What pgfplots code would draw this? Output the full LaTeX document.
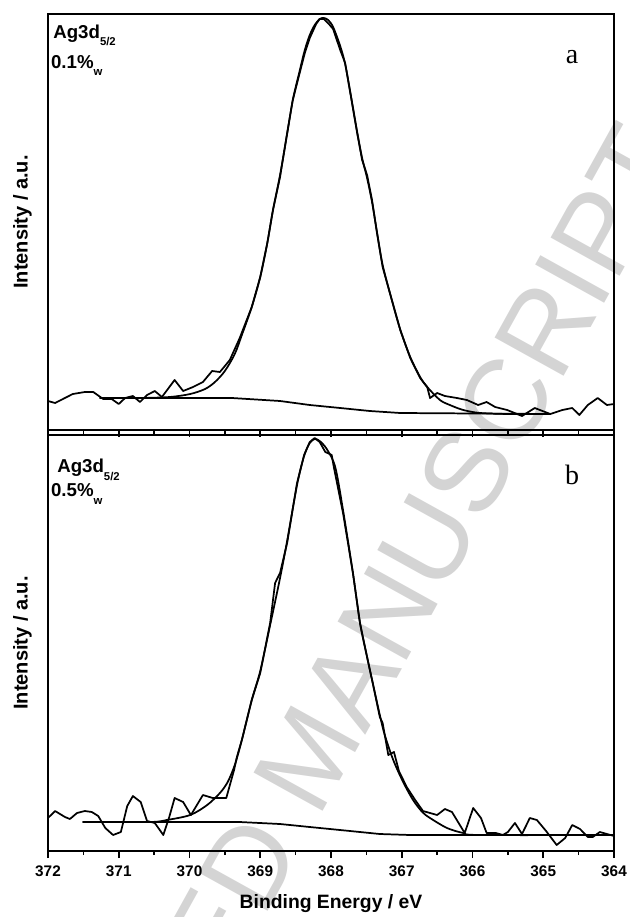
\documentclass[border=0pt]{standalone}
\usepackage{pgfplots}
\pgfplotsset{compat=1.18}
\usepackage{fontspec}
\setmainfont{Liberation Sans}
\newfontfamily\serifl{Liberation Serif}

\pgfplotsset{xps/.style={
  scale only axis, width=424.5pt, height=312pt,
  xmin=364, xmax=372, x dir=reverse, ymin=0, ymax=416,
  xtick={364,365,...,372}, minor x tick num=1,
  ytick=\empty,
  axis line style={line width=1.4pt},
  every tick/.style={line width=1.3pt, black},
  tick align=outside, xtick pos=left,
  major tick length=5.25pt, minor tick length=3pt,
  ylabel={Intensity / a.u.},
  ylabel style={at={(axis description cs:-0.045,0.5)}, anchor=center,
    font=\bfseries\fontsize{15}{17}\selectfont},
  /pgf/number format/assume math mode=true,
  /pgf/number format/set thousands separator={},
  xticklabel style={font=\bfseries\fontsize{11.5}{13}\selectfont, yshift=-2pt},
}}
\tikzset{ln/.style={black, line width=1.3pt, mark=none, line join=round},
lab/.style={anchor=base west, inner sep=0pt, font=\bfseries\fontsize{14}{16}\selectfont}}
\newcommand{\sub}[1]{\raisebox{-5.5pt}{\fontsize{8.5}{9}\selectfont #1}}

\begin{document}
\begin{tikzpicture}
\path[use as bounding box] (0pt,0pt) rectangle (471.75pt,-687.75pt);
\node[rotate=61, text=black!17, font=\fontsize{86}{86}\selectfont, inner sep=0pt] at (231.75pt,-566.6pt) {ACCEPTED MANUSCRIPT};

% ---------------- top panel (a) ----------------
\begin{axis}[xps, at={(36pt,-10.5pt)}, anchor=north west, xticklabels={}]
% measured spectrum
\addplot[ln] coordinates {
(372.00,29) (371.90,27) (371.65,36) (371.48,38) (371.36,38) (371.22,31)
(371.10,31) (371.00,26) (370.91,32) (370.80,34) (370.70,28) (370.60,35)
(370.49,39) (370.39,33) (370.21,50) (370.09,39) (369.95,43) (369.81,48)
(369.68,59) (369.57,58) (369.43,70) (369.29,92) (369.12,123) (369.00,153)
(368.90,187) (368.82,220) (368.72,253) (368.62,297) (368.54,330) (368.45,355)
(368.37,377) (368.30,392) (368.21,406) (368.16,411) (368.10,411) (368.03,406)
(367.97,401) (367.87,380) (367.80,367) (367.72,334) (367.63,297) (367.56,270)
(367.49,255) (367.42,230) (367.35,197) (367.27,163) (367.14,130) (367.02,100)
(366.88,72) (366.74,52) (366.64,43) (366.60,32) (366.50,37) (366.39,34)
(366.22,32) (366.08,30) (365.92,25) (365.80,28) (365.68,23) (365.51,20)
(365.30,14) (365.12,22) (364.90,16) (364.73,20) (364.59,22) (364.49,15)
(364.37,25) (364.23,32) (364.10,25) (364.00,26)
};
% fit envelope
\addplot[ln, smooth] coordinates {
(371.27,32) (370.70,32) (370.28,33) (369.99,36) (369.78,41) (369.64,48)
(369.50,59) (369.36,76) (369.26,95) (369.12,123) (369.00,153) (368.90,187)
(368.82,220) (368.72,255) (368.62,296) (368.54,330) (368.45,357) (368.37,380)
(368.30,395) (368.23,405) (368.16,411) (368.10,412) (368.04,410) (367.97,403)
(367.87,384) (367.80,366) (367.72,335) (367.63,298) (367.56,272) (367.49,252)
(367.42,228) (367.35,198) (367.27,165) (367.14,130) (367.02,100) (366.88,73)
(366.74,53) (366.64,43) (366.46,30) (366.32,25) (366.13,20) (365.89,17)
(365.47,16) (364.90,16)
};
% Shirley background
\addplot[ln] coordinates {
(371.27,32) (369.40,32) (368.72,29) (368.30,25) (367.87,22) (367.45,19)
(367.02,17) (364.90,16)
};
\node[lab] at (rel axis cs:0.009,0.942) {Ag3d\sub{5/2}};
\node[lab] at (rel axis cs:0.005,0.870) {0.1\%\sub{w}};
\node[font=\serifl\fontsize{21}{22}\selectfont] at (rel axis cs:0.926,0.897) {a};
\end{axis}

% ---------------- bottom panel (b) ----------------
\begin{axis}[xps, at={(36pt,-326.25pt)}, anchor=north west,
  xlabel={Binding Energy / eV},
  xlabel style={at={(axis description cs:0.5,-0.127)}, anchor=center,
    font=\bfseries\fontsize{14.5}{16}\selectfont}]
\addplot[ln] coordinates {
(372.00,33) (371.90,40) (371.76,34) (371.69,32) (371.59,38) (371.48,40)
(371.38,39) (371.29,35) (371.19,23) (371.08,16) (370.97,19) (370.88,45)
(370.80,55) (370.69,49) (370.60,30) (370.49,28) (370.37,16) (370.29,33)
(370.21,53) (370.09,49) (369.98,36) (369.81,56) (369.67,53) (369.48,53)
(369.37,81) (369.33,94) (369.26,111) (369.12,151) (369.00,178) (368.86,228)
(368.79,268) (368.72,278) (368.62,308) (368.48,368) (368.38,396) (368.30,409)
(368.23,413) (368.16,409) (368.08,399) (367.99,396) (367.96,384) (367.83,338)
(367.69,278) (367.59,228) (367.49,194) (367.41,168) (367.31,134) (367.27,128)
(367.19,96) (367.11,99) (367.04,80) (366.93,64) (366.81,51) (366.70,40)
(366.50,36) (366.39,42) (366.29,39) (366.11,18) (365.99,43) (365.88,33)
(365.80,18) (365.67,18) (365.57,16) (365.50,19) (365.40,28) (365.30,17)
(365.19,33) (365.09,31) (364.96,20) (364.81,6) (364.69,13) (364.59,26)
(364.48,22) (364.37,14) (364.30,14) (364.20,19) (364.10,17) (364.00,15)
};
\addplot[ln, smooth] coordinates {
(371.51,29) (370.56,29) (370.32,31) (369.99,36) (369.75,46) (369.57,58)
(369.46,69) (369.36,86) (369.26,111) (369.12,151) (369.00,180) (368.86,226)
(368.72,273) (368.62,310) (368.48,366) (368.38,395) (368.30,408) (368.23,412)
(368.16,410) (368.06,402) (367.94,384) (367.83,341) (367.69,278) (367.59,228)
(367.49,194) (367.41,168) (367.31,136) (367.24,116) (367.12,91) (366.98,69)
(366.84,51) (366.71,39) (366.60,33) (366.36,23) (366.13,18) (365.89,16)
(364.00,16)
};
\addplot[ln] coordinates {
(371.51,29) (369.29,29) (368.72,27) (368.30,24) (367.73,20) (367.31,17)
(366.88,16) (364.00,16)
};
\node[lab] at (rel axis cs:0.016,0.909) {Ag3d\sub{5/2}};
\node[lab] at (rel axis cs:0.005,0.851) {0.5\%\sub{w}};
\node[font=\serifl\fontsize{21}{22}\selectfont] at (rel axis cs:0.926,0.904) {b};
\end{axis}
\end{tikzpicture}
\end{document}
